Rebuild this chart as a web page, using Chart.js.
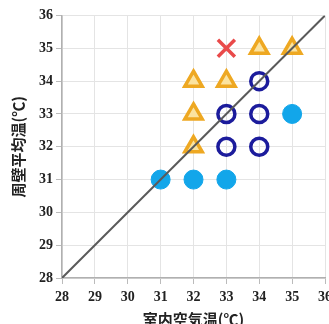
<!DOCTYPE html>
<html>
<head>
<meta charset="utf-8">
<script src="https://cdn.jsdelivr.net/npm/chart.js@4/dist/chart.umd.min.js"></script>
<style>
  html, body { margin: 0; padding: 0; background: #fff; overflow: hidden; }
  #wrap { position: absolute; left: 0; top: 0; width: 345px; height: 328px; }
</style>
</head>
<body>
<div id="wrap"><canvas id="chart1"></canvas></div>
<script>
// axis range (deg C)
var tickMin = 28;
var tickMax = 36;

// air temp (x) and mean wall temp (y) for each marker group
var triX = [34, 35, 32, 33, 32, 32];
var triY = [35, 35, 34, 34, 33, 32];
var crossX = [33];
var crossY = [35];
var ringX = [34, 33, 34, 33, 34];
var ringY = [34, 33, 33, 32, 32];
var dotX = [31, 32, 33, 35];
var dotY = [31, 31, 31, 33];
var diagX = [28, 36];
var diagY = [28, 36];

function pts(xs, ys) {
    return xs.map(function(v, i) { return { x: v, y: ys[i] }; });
}

var tickFont = { family: '"Liberation Serif", serif', size: 14, weight: 'bold' };
var titleFont = { family: '"Noto Sans CJK JP", sans-serif', size: 15, weight: 'bold' };

var ctx = document.getElementById('chart1').getContext('2d');
var myChart = new Chart(ctx, {
    type: 'scatter',
    data: {
        datasets: [{
            type: 'line',
            data: pts(diagX, diagY),
            borderColor: '#5a5a5a',
            borderWidth: 2,
            pointRadius: 0,
            order: 0
        },
        {
            data: pts(triX, triY),
            pointStyle: 'triangle',
            pointRadius: 10,
            backgroundColor: '#fbe3a0',
            borderColor: '#eea822',
            borderWidth: 3.5,
            order: 1
        },
        {
            data: pts(crossX, crossY),
            pointStyle: 'crossRot',
            pointRadius: 12,
            borderColor: '#e94a4a',
            borderWidth: 3.5,
            order: 1
        },
        {
            data: pts(ringX, ringY),
            pointStyle: 'circle',
            pointRadius: 8.5,
            backgroundColor: 'rgba(255,255,255,0)',
            borderColor: '#1c1c9c',
            borderWidth: 3.5,
            order: 1
        },
        {
            data: pts(dotX, dotY),
            pointStyle: 'circle',
            pointRadius: 9.5,
            backgroundColor: '#12a6ea',
            borderColor: '#12a6ea',
            borderWidth: 1,
            order: 1
        }]
    },
    options: {
        responsive: true,
        maintainAspectRatio: false,
        animation: false,
        layout: {
            padding: { left: 0, top: 13, right: 20, bottom: 0 }
        },
        plugins: {
            legend: { display: false },
            tooltip: { enabled: false }
        },
        scales: {
            x: {
                type: 'linear',
                min: tickMin,
                max: tickMax,
                ticks: { stepSize: 1, color: '#222', font: tickFont, padding: 5 },
                grid: { color: '#e4e4e4', tickColor: '#bbb', tickLength: 6 },
                border: { color: '#b0b0b0', width: 1.5 },
                title: { display: true, text: '室内空気温(℃)', color: '#222', font: titleFont, padding: { top: 0, bottom: 0 } },
                afterFit: function(scale) { scale.height = 50; }
            },
            y: {
                type: 'linear',
                min: tickMin,
                max: tickMax,
                ticks: { stepSize: 1, color: '#222', font: tickFont, padding: 3 },
                grid: { color: '#e4e4e4', tickColor: '#bbb', tickLength: 6 },
                border: { color: '#b0b0b0', width: 1.5 },
                title: { display: true, text: '周壁平均温(℃)', color: '#222', font: titleFont, padding: { top: 9, bottom: 0 } },
                afterFit: function(scale) { scale.width = 62; }
            }
        }
    }
});
</script>
</body>
</html>
